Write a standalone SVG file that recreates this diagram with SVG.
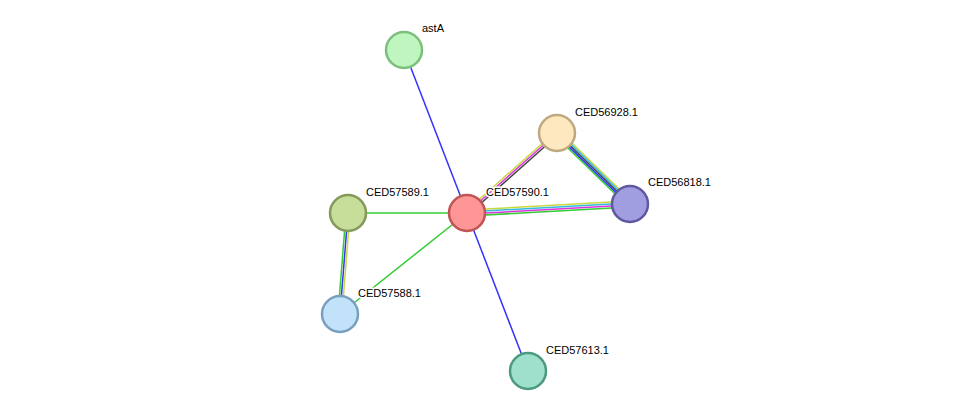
<svg xmlns="http://www.w3.org/2000/svg" width="975" height="417" viewBox="0 0 975 417">
<style>
.e{stroke-width:1.5;fill:none}
.n{stroke-width:2.5}
.t{font-family:"Liberation Sans",Arial,sans-serif;font-size:11px;fill:#000;paint-order:stroke;stroke:#fff;stroke-width:3px;stroke-linejoin:round}
</style>
<rect width="975" height="417" fill="#fff"/>
<g id="edges">
<line class="e" stroke="#3333ff" x1="404" y1="50" x2="467" y2="213"/>
<line class="e" stroke="#3333ff" x1="467" y1="213" x2="528" y2="371"/>
<line class="e" stroke="#33cc33" x1="348" y1="213" x2="467" y2="213"/>
<line class="e" stroke="#33cc33" x1="467" y1="213" x2="340" y2="314"/>
<line class="e" stroke="#c8d840" x1="465.67" y1="211.51" x2="555.67" y2="131.51"/>
<line class="e" stroke="#dd33dd" x1="467" y1="213" x2="557" y2="133"/>
<line class="e" stroke="#444" x1="468.33" y1="214.49" x2="558.33" y2="134.49"/>
<line class="e" stroke="#c8d840" x1="559.23" y1="130.71" x2="632.23" y2="201.71"/>
<line class="e" stroke="#33bbdd" x1="558.12" y1="131.85" x2="631.12" y2="202.85"/>
<line class="e" stroke="#444" x1="557" y1="133" x2="630" y2="204"/>
<line class="e" stroke="#3333ff" x1="555.88" y1="134.15" x2="628.88" y2="205.15"/>
<line class="e" stroke="#33cc33" x1="554.77" y1="135.29" x2="627.77" y2="206.29"/>
<line class="e" stroke="#c8d840" x1="466.83" y1="210.01" x2="629.83" y2="201.01"/>
<line class="e" stroke="#33bbdd" x1="466.94" y1="212" x2="629.94" y2="203"/>
<line class="e" stroke="#dd33dd" x1="467.06" y1="214" x2="630.06" y2="205"/>
<line class="e" stroke="#33cc33" x1="467.17" y1="215.99" x2="630.17" y2="206.99"/>
<line class="e" stroke="#33cc33" x1="346.01" y1="212.84" x2="338.01" y2="313.84"/>
<line class="e" stroke="#3333ff" x1="348" y1="213" x2="340" y2="314"/>
<line class="e" stroke="#c8d840" x1="349.99" y1="213.16" x2="341.99" y2="314.16"/>
</g>
<g id="astA"><circle class="n" cx="404" cy="50" r="18" fill="#bff5bf" stroke="#7dbf7d"/><text class="t" x="422" y="32">astA</text></g>
<g id="CED56928.1"><circle class="n" cx="557" cy="133" r="18" fill="#fde8c0" stroke="#bfaa80"/><text class="t" x="575" y="116">CED56928.1</text></g>
<g id="CED56818.1"><circle class="n" cx="630" cy="204" r="18" fill="#a09de0" stroke="#5f5aa0"/><text class="t" x="648" y="186">CED56818.1</text></g>
<g id="CED57590.1"><circle class="n" cx="467" cy="213" r="18" fill="#ff9696" stroke="#c05555"/><text class="t" x="486" y="196">CED57590.1</text></g>
<g id="CED57589.1"><circle class="n" cx="348" cy="213" r="18" fill="#c6de9a" stroke="#849a5a"/><text class="t" x="366" y="196">CED57589.1</text></g>
<g id="CED57588.1"><circle class="n" cx="340" cy="314" r="18" fill="#c2e2fa" stroke="#7aa0c0"/><text class="t" x="358" y="297">CED57588.1</text></g>
<g id="CED57613.1"><circle class="n" cx="528" cy="371" r="18" fill="#9fe0cc" stroke="#4a9a80"/><text class="t" x="546" y="354">CED57613.1</text></g>
</svg>
